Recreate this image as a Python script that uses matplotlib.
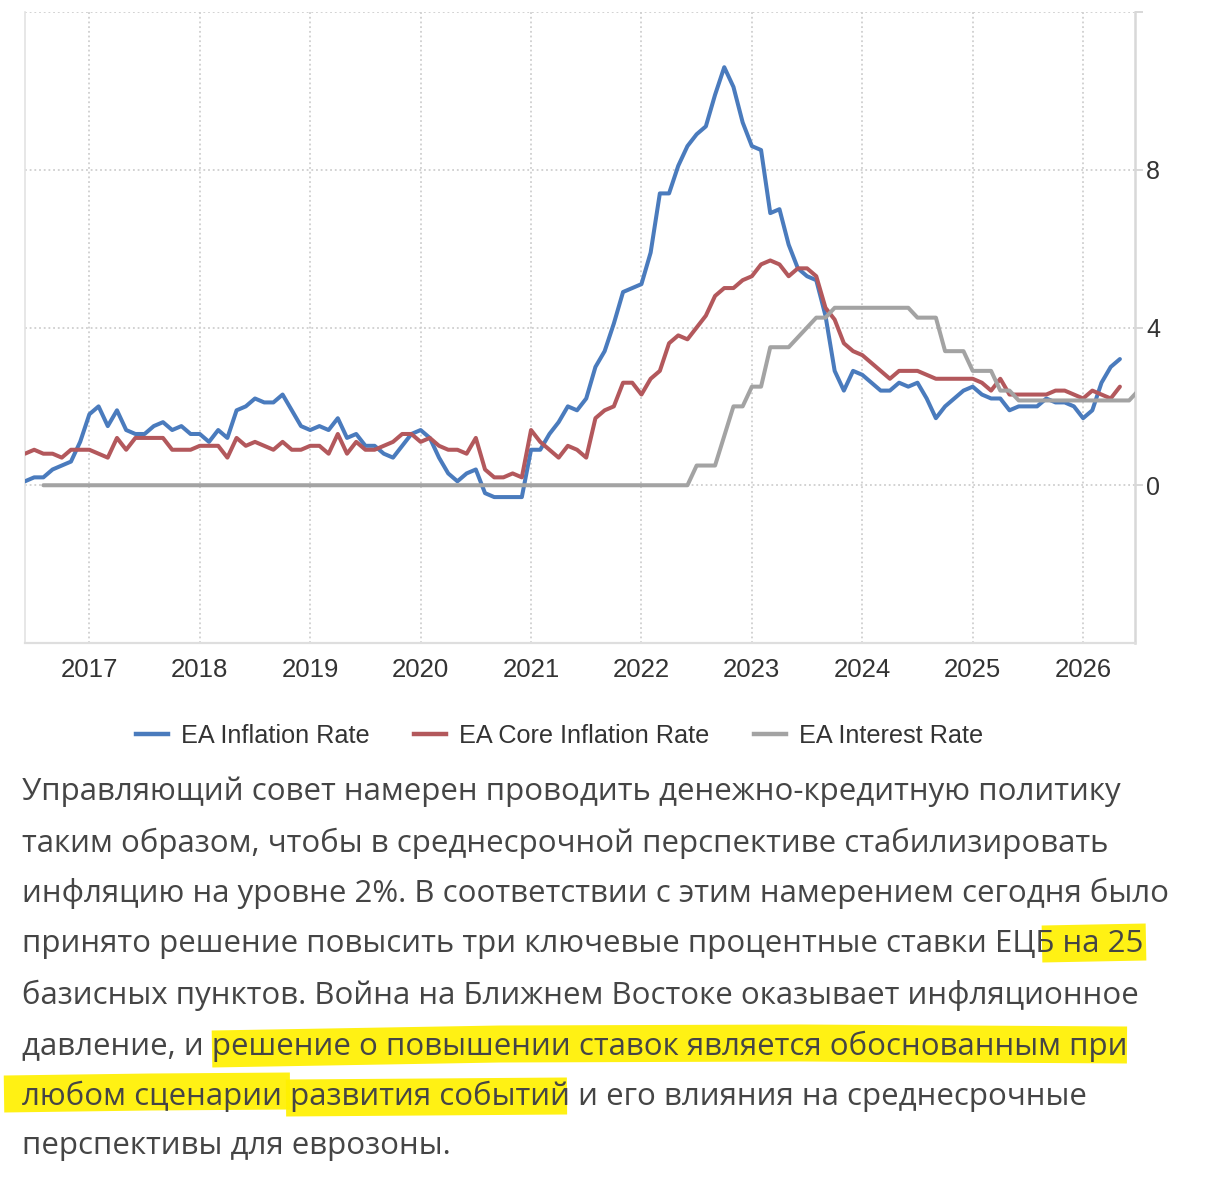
import numpy as np
import pandas as pd
import matplotlib
matplotlib.use('Agg')
import matplotlib.pyplot as plt
from matplotlib.lines import Line2D

W, H, DPI = 1206, 1183, 100

# ---------------- data ----------------
inflation_start = '2016-06'
inflation = [
    0.1, 0.2, 0.2, 0.4, 0.5, 0.6, 1.1,
    1.8, 2.0, 1.5, 1.9, 1.4, 1.3, 1.3, 1.5, 1.6, 1.4, 1.5, 1.3,
    1.3, 1.1, 1.4, 1.2, 1.9, 2.0, 2.2, 2.1, 2.1, 2.3, 1.9, 1.5,
    1.4, 1.5, 1.4, 1.7, 1.2, 1.3, 1.0, 1.0, 0.8, 0.7, 1.0, 1.3,
    1.4, 1.2, 0.7, 0.3, 0.1, 0.3, 0.4, -0.2, -0.3, -0.3, -0.3, -0.3,
    0.9, 0.9, 1.3, 1.6, 2.0, 1.9, 2.2, 3.0, 3.4, 4.1, 4.9, 5.0,
    5.1, 5.9, 7.4, 7.4, 8.1, 8.6, 8.9, 9.1, 9.9, 10.6, 10.1, 9.2,
    8.6, 8.5, 6.9, 7.0, 6.1, 5.5, 5.3, 5.2, 4.3, 2.9, 2.4, 2.9,
    2.8, 2.6, 2.4, 2.4, 2.6, 2.5, 2.6, 2.2, 1.7, 2.0, 2.2, 2.4,
    2.5, 2.3, 2.2, 2.2, 1.9, 2.0, 2.0, 2.0, 2.2, 2.1, 2.1, 2.0,
    1.7, 1.9, 2.6, 3.0, 3.2,
]
core_start = '2016-06'
core = [
    0.8, 0.9, 0.8, 0.8, 0.7, 0.9, 0.9,
    0.9, 0.8, 0.7, 1.2, 0.9, 1.2, 1.2, 1.2, 1.2, 0.9, 0.9, 0.9,
    1.0, 1.0, 1.0, 0.7, 1.2, 1.0, 1.1, 1.0, 0.9, 1.1, 0.9, 0.9,
    1.0, 1.0, 0.8, 1.3, 0.8, 1.1, 0.9, 0.9, 1.0, 1.1, 1.3, 1.3,
    1.1, 1.2, 1.0, 0.9, 0.9, 0.8, 1.2, 0.4, 0.2, 0.2, 0.3, 0.2,
    1.4, 1.1, 0.9, 0.7, 1.0, 0.9, 0.7, 1.7, 1.9, 2.0, 2.6, 2.6,
    2.3, 2.7, 2.9, 3.6, 3.8, 3.7, 4.0, 4.3, 4.8, 5.0, 5.0, 5.2,
    5.3, 5.6, 5.7, 5.6, 5.3, 5.5, 5.5, 5.3, 4.5, 4.2, 3.6, 3.4,
    3.3, 3.1, 2.9, 2.7, 2.9, 2.9, 2.9, 2.8, 2.7, 2.7, 2.7, 2.7,
    2.7, 2.6, 2.4, 2.7, 2.3, 2.3, 2.3, 2.3, 2.3, 2.4, 2.4, 2.3,
    2.2, 2.4, 2.3, 2.2, 2.5,
]
rate_start = '2016-08'
rate = [0.0] * 71 + [
    0.5, 0.5, 0.5, 1.25, 2.0, 2.0,
    2.5, 2.5, 3.5, 3.5, 3.5, 3.75, 4.0, 4.25, 4.25, 4.5, 4.5, 4.5,
    4.5, 4.5, 4.5, 4.5, 4.5, 4.5, 4.25, 4.25, 4.25, 3.4, 3.4, 3.4,
    2.9, 2.9, 2.9, 2.4, 2.4, 2.15, 2.15, 2.15, 2.15, 2.15, 2.15, 2.15,
    2.15, 2.15, 2.15, 2.15, 2.15, 2.15, 2.4,
]
year_ticks = list(range(2017, 2027))
y_ticks = [0, 4, 8, 12]
y_tick_labels = ['0', '4', '8', '']
series_names = ['EA Inflation Rate', 'EA Core Inflation Rate', 'EA Interest Rate']
series_colors = ['#4a7bbd', '#b3585c', '#a3a3a3']

paragraph = [
    'Управляющий совет намерен проводить денежно-кредитную политику',
    'таким образом, чтобы в среднесрочной перспективе стабилизировать',
    'инфляцию на уровне 2%. В соответствии с этим намерением сегодня было',
    'принято решение повысить три ключевые процентные ставки ЕЦБ на 25',
    'базисных пунктов. Война на Ближнем Востоке оказывает инфляционное',
    'давление, и решение о повышении ставок является обоснованным при',
    'любом сценарии развития событий и его влияния на среднесрочные',
    'перспективы для еврозоны.',
]


def decimal_months(start, n):
    idx = pd.period_range(start, periods=n, freq='M')
    return np.asarray(idx.year + (idx.month - 1) / 12.0, dtype=float)


CHART_FONT = ['Liberation Sans', 'DejaVu Sans']
TEXT_FONT = ['Open Sans', 'DejaVu Sans']

fig = plt.figure(figsize=(W / DPI, H / DPI), dpi=DPI)
fig.patch.set_facecolor('white')

def fx(x):
    return x / W

def fy(y):
    return 1 - y / H

ax = fig.add_axes([fx(25), fy(643), (1135 - 25) / W, (643 - 12) / H])
ax.set_xlim(2016.417, 2026.47)
ax.set_ylim(-4, 12)

t_inf = decimal_months(inflation_start, len(inflation))
t_core = decimal_months(core_start, len(core))
t_rate = decimal_months(rate_start, len(rate))

for t, v, c, z in [(t_inf, inflation, series_colors[0], 3),
                   (t_core, core, series_colors[1], 4),
                   (t_rate, rate, series_colors[2], 5)]:
    ax.plot(t, v, color=c, lw=2.9, solid_joinstyle='round',
            solid_capstyle='round', zorder=z)

ax.set_xticks(year_ticks)
ax.set_xticklabels([str(y) for y in year_ticks])
ax.set_yticks(y_ticks)
ax.set_yticklabels(y_tick_labels)
ax.yaxis.tick_right()
ax.grid(True, which='major', ls=(0, (1, 1.6)), color='#cfcfcf', lw=1.3, zorder=0)
ax.set_axisbelow(True)

ax.tick_params(axis='x', length=0, pad=11, labelsize=18.5, labelcolor='#333333')
ax.tick_params(axis='y', length=6, width=1.4, color='#d8d8d8', pad=2,
               labelsize=18, labelcolor='#333333')
for lab in ax.get_xticklabels() + ax.get_yticklabels():
    lab.set_family(CHART_FONT)

ax.spines['top'].set_visible(False)
ax.spines['left'].set_color('#e3e3e3')
ax.spines['left'].set_linewidth(1.2)
ax.spines['right'].set_color('#d8d8d8')
ax.spines['right'].set_linewidth(1.8)
ax.spines['bottom'].set_color('#dedede')
ax.spines['bottom'].set_linewidth(1.6)

handles = [Line2D([0], [0], color=c, lw=3.2) for c in series_colors]
fig.legend(handles, series_names, loc='center',
           bbox_to_anchor=(fx(559.5), fy(736)), ncol=3, frameon=False,
           prop={'family': CHART_FONT, 'size': 18.2},
           labelcolor='#333333', handlelength=1.27, handletextpad=0.51,
           columnspacing=1.78, borderpad=0, borderaxespad=0)

# ---------------- paragraph with highlights ----------------
line_centers = [792, 843, 893, 944, 995, 1046, 1096, 1146]

fig.canvas.draw()
renderer = fig.canvas.get_renderer()
probe = fig.text(fx(22), fy(792), paragraph[0], fontsize=20, family=TEXT_FONT)
w = probe.get_window_extent(renderer=renderer).width
probe.remove()
fs = 20 * (1120 - 22) / w

highlight_strokes = [
    [(1042, 944), (1146, 942)],
    [(212, 1049), (500, 1044), (800, 1043), (1127, 1045)],
    [(4, 1094), (150, 1092), (290, 1091)],
    [(286, 1098), (567, 1096)],
]
for stroke in highlight_strokes:
    xs = [fx(p[0]) for p in stroke]
    ys = [fy(p[1]) for p in stroke]
    ln = Line2D(xs, ys, transform=fig.transFigure, color='#fff000',
                lw=37 * 72 / DPI, alpha=0.92, solid_capstyle='butt',
                solid_joinstyle='round', zorder=1)
    fig.add_artist(ln)

for txt, yc in zip(paragraph, line_centers):
    fig.text(fx(22), fy(yc), txt, fontsize=fs, family=TEXT_FONT,
             color='#454545', va='center', ha='left', zorder=5)

fig.savefig('out.png', dpi=DPI, facecolor='white')
